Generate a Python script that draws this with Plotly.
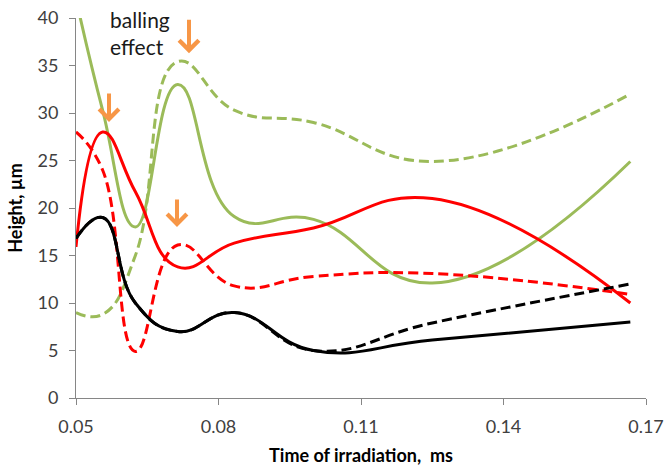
import plotly.graph_objects as go

# Time of irradiation, ms (1/20 ... 1/6)
time_ms = [0.05, 0.0556, 0.0625, 0.0714, 0.0833, 0.1, 0.125, 0.1667]

black_solid = [16.8, 19.0, 10.0, 7.0, 9.0, 5.0, 6.1, 8.0]
black_dashed = [16.8, 19.0, 10.0, 7.0, 9.0, 5.0, 7.9, 12.0]
red_solid = [15.9, 28.0, 21.7, 13.8, 16.3, 17.9, 21.0, 10.0]
red_dashed = [28.0, 24.0, 4.9, 16.1, 11.8, 12.8, 13.1, 10.9]
green_solid = [42.0, 30.3, 18.0, 33.0, 19.1, 18.8, 12.1, 24.9]
green_dashed = [9.0, 8.8, 15.0, 35.4, 30.3, 29.0, 24.9, 32.0]

x_ticks = [0.05, 0.08, 0.11, 0.14, 0.17]
x_tick_labels = ["0.05", "0.08", "0.11", "0.14", "0.17"]
y_ticks = [0, 5, 10, 15, 20, 25, 30, 35, 40]

RED = "#FF0000"
GREEN = "#9BBB59"
BLACK = "#000000"
ORANGE = "#F79646"
DASH = "10px,5px"

fig = go.Figure()

series = [
    (green_dashed, GREEN, DASH),
    (green_solid, GREEN, "solid"),
    (red_dashed, RED, DASH),
    (red_solid, RED, "solid"),
    (black_dashed, BLACK, DASH),
    (black_solid, BLACK, "solid"),
]
for vals, col, dash in series:
    fig.add_trace(go.Scatter(
        x=time_ms, y=vals, mode="lines",
        line=dict(color=col, width=3, dash=dash, shape="spline", smoothing=1.3),
        showlegend=False, hoverinfo="skip",
    ))

# orange arrows marking the balling effect
arrows = [(0.05695, 29.05, -30), (0.07379, 36.3, -35), (0.07126, 18.0, -29)]
for ax_x, ax_y, ay in arrows:
    fig.add_annotation(
        x=ax_x, y=ax_y, xref="x", yref="y", ax=0, ay=ay, text="",
        showarrow=True, arrowhead=4, arrowsize=0.95, arrowwidth=4,
        arrowcolor=ORANGE, standoff=0,
    )

fig.add_annotation(
    x=0.0568, y=1.035, xref="x", yref="paper", text="balling<br>effect",
    showarrow=False, xanchor="left", yanchor="top", align="left",
    font=dict(family="Lato", size=21, color="#1a1a1a"),
)

fig.update_layout(
    width=665, height=471,
    margin=dict(l=76, r=19, t=18, b=73, autoexpand=False),
    paper_bgcolor="white", plot_bgcolor="white",
    font=dict(family="Lato", size=18, color="#404040"),
    xaxis=dict(
        range=[0.05, 0.17], tickvals=x_ticks, ticktext=x_tick_labels,
        automargin=False,
        showgrid=False, zeroline=False, showline=True, linecolor="#868686", linewidth=1,
        ticks="outside", ticklen=6, tickcolor="#868686", ticklabelstandoff=6,
        tickfont=dict(family="Lato", size=18, color="#404040"),
        title=dict(text="Time of irradiation,\u00a0 ms", standoff=13,
                   font=dict(family="Lato", size=18, color="#000000", weight="bold")),
    ),
    yaxis=dict(
        range=[0, 40], tickvals=y_ticks, automargin=False,
        showgrid=False, zeroline=False, showline=True, linecolor="#868686", linewidth=1,
        ticks="outside", ticklen=6, tickcolor="#868686", ticklabelstandoff=7,
        tickfont=dict(family="Lato", size=18, color="#404040"),
        title=dict(text="Height, µm", standoff=10,
                   font=dict(family="Lato", size=18, color="#000000", weight="bold")),
    ),
)

fig.write_html("out.html", config={"displayModeBar": False},
               post_script="document.body.style.margin='0px';")
